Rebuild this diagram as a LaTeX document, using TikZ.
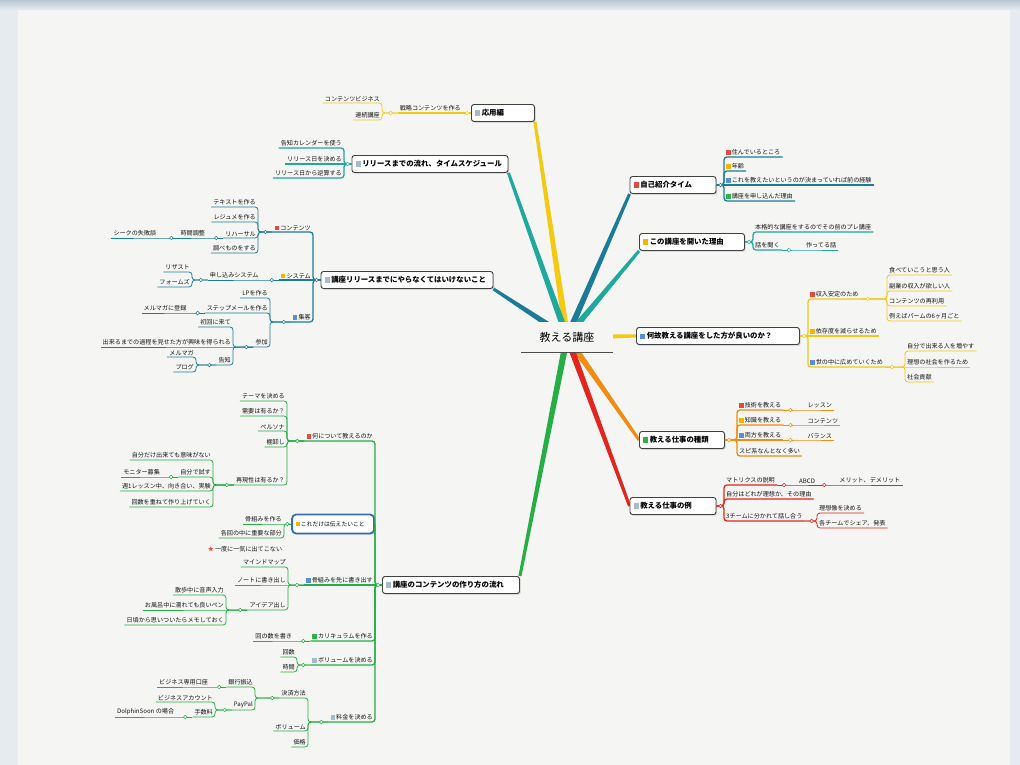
\documentclass[tikz,border=0pt]{standalone}
\usepackage{fontspec}
\setmainfont{Noto Sans CJK JP}
\usetikzlibrary{positioning,calc,shadows}

\definecolor{pageBg}{HTML}{F5F5F4}
\definecolor{edgeBg}{HTML}{E6EBF0}
\definecolor{topBar}{HTML}{B9C7D5}
\definecolor{cYel}{HTML}{F3C912}
\definecolor{cTl}{HTML}{1FA89C}
\definecolor{cDT}{HTML}{1C7C98}
\definecolor{cOr}{HTML}{F08C10}
\definecolor{cRd}{HTML}{E0261E}
\definecolor{cGn}{HTML}{24AE44}
\definecolor{iR}{HTML}{E5483F}
\definecolor{iY}{HTML}{F4B400}
\definecolor{iB}{HTML}{5B8ED8}
\definecolor{iG}{HTML}{2EB34C}
\definecolor{iN}{HTML}{A7BACB}
\definecolor{selBlue}{HTML}{3A6DB0}

\pgfdeclarelayer{bg}
\pgfsetlayers{bg,main}

\newcommand{\ico}[1]{\textcolor{#1}{\rule{.72em}{.72em}}\hspace{.2em}}
\newcommand{\branch}[2]{\fill[#1] ($(o)!3.2pt!90:(#2)$) -- ($(#2)!1.5pt!-90:(o)$) -- ($(#2)!1.5pt!90:(o)$) -- ($(o)!3.2pt!-90:(#2)$) -- cycle;}

\begin{document}
\begin{tikzpicture}[x=1pt,y=-1pt,
  box/.style={draw=black!75, line width=0.9pt, rounded corners=2.5pt, fill=white,
    drop shadow={shadow xshift=1.2pt, shadow yshift=-1.2pt, opacity=0.35},
    font=\fontsize{7.4}{8.5}\selectfont\bfseries, inner xsep=3.5pt, minimum height=17pt, align=left},
  sub/.style={font=\fontsize{6.1}{7}\selectfont, text=black!92, inner xsep=2pt, inner ysep=1.5pt},
  sr/.style={sub, anchor=south west},
  sl/.style={sub, anchor=south east},
  lk/.style={rounded corners=3pt, line width=1.3pt},
  lk2/.style={rounded corners=3pt, line width=0.8pt},
  knob/.style={line width=0.5pt, fill=white}]
  \useasboundingbox (0,0) rectangle (1020,765);

  % Temas principales
  \node[box, text width=56pt] (ap) at (503,113) {\ico{iN}応用編};
  \node[box, text width=149pt] (rs) at (430,164) {\ico{iN}リリースまでの流れ、タイムスケジュール};
  \node[box, text width=165pt] (kr) at (407,280) {\ico{iN}講座リリースまでにやらなくてはいけないこと};
  \node[box, text width=79pt] (jk) at (673,185) {\ico{iR}自己紹介タイム};
  \node[box, text width=98pt] (kk) at (692,242) {\ico{iY}この講座を開いた理由};
  \node[box, text width=156pt] (nz) at (718,336) {\ico{iB}何故教える講座をした方が良いのか？};
  \node[box, text width=78pt] (sy) at (682,440) {\ico{iG}教える仕事の種類};
  \node[box, text width=79pt] (ex) at (673,506) {\ico{iN}教える仕事の例};
  \node[box, text width=130pt] (tk) at (451,585) {\ico{iN}講座のコンテンツの作り方の流れ};

  \coordinate (o) at (567,337);
  \begin{pgfonlayer}{bg}
    \fill[edgeBg] (0,0) rectangle (1020,765);
    \fill[pageBg] (18,10) rectangle (1010,765);
    \shade[top color=topBar, bottom color=edgeBg] (0,0) rectangle (1020,10);
    \branch{cYel}{ap.south east}
    \branch{cTl}{rs.south east}
    \branch{cDT}{kr.south east}
    \branch{cDT}{jk.south west}
    \branch{cTl}{kk.south west}
    \branch{cYel}{nz.west}
    \branch{cOr}{sy.west}
    \branch{cRd}{ex.west}
    \branch{cGn}{tk.north east}
  \end{pgfonlayer}

  \node[font=\fontsize{11}{13}\selectfont, fill=pageBg, minimum width=91pt, minimum height=30pt, inner sep=0pt] (ctr) at (567,337) {教える講座};
  \draw[black!70, line width=0.7pt] (ctr.south west) -- (ctr.south east);

  % 自己紹介タイム
  \node[sr] (s1) at (724,157) {\ico{iR}住んでいるところ};
  \node[sr] (s2) at (724,171) {\ico{iY}年齢};
  \node[sr] (s3) at (724,185) {\ico{iB}これを教えたいというのが決まっていれば前の経験};
  \node[sr] (s4) at (724,201) {\ico{iG}講座を申し込んだ理由};
  \draw[lk,cDT] (jk.east) -| (s1.south west) -- (s1.south east);
  \draw[lk,cDT] (jk.east) -| (s2.south west) -- (s2.south east);
  \draw[lk,cDT] (jk.east) -- (s3.south west) -- (s3.south east);
  \draw[lk,cDT] (jk.east) -| (s4.south west) -- (s4.south east);

  % この講座を開いた理由
  \node[sr] (c1) at (753,232) {本格的な講座をするのでその前のプレ講座};
  \node[sr] (c2) at (753,250) {話を聞く};
  \node[sr] (c21) at ([xshift=22pt]c2.south east) {作ってる話};
  \draw[lk,cTl] (kk.east) -| (c1.south west) -- (c1.south east);
  \draw[lk,cTl] (kk.east) -| (c2.south west) -- (c2.south east);
  \draw[lk2,cTl] (c2.south east) -- (c21.south west) -- (c21.south east);

  % 何故
  \node[sr] (n1) at (808,299) {\ico{iR}収入安定のため};
  \node[sr] (n2) at (808,336) {\ico{iY}依存度を減らせるため};
  \node[sr] (n3) at (808,367) {\ico{iB}世の中に広めていくため};
  \node[sr] (n11) at (887,275) {食べていこうと思う人};
  \node[sr] (n12) at (887,291) {副業の収入が欲しい人};
  \node[sr] (n13) at (887,306) {コンテンツの再利用};
  \node[sr] (n14) at (887,321) {例えばパームの6ヶ月ごと};
  \node[sr] (n31) at (905,351) {自分で出来る人を増やす};
  \node[sr] (n32) at (905,367) {理想の社会を作るため};
  \node[sr] (n33) at (905,382) {社会貢献};
  \draw[lk,cYel] (nz.east) -| (n1.south west) -- (n1.south east);
  \draw[lk,cYel] (nz.east) -- (n2.south west) -- (n2.south east);
  \draw[lk,cYel] (nz.east) -| (n3.south west) -- (n3.south east);
  \draw[lk2,cYel] (n1.south east) -| (n11.south west) -- (n11.south east);
  \draw[lk2,cYel] (n1.south east) -| (n12.south west) -- (n12.south east);
  \draw[lk2,cYel] (n1.south east) -| (n13.south west) -- (n13.south east);
  \draw[lk2,cYel] (n1.south east) -| (n14.south west) -- (n14.south east);
  \draw[lk2,cYel] (n3.south east) -| (n31.south west) -- (n31.south east);
  \draw[lk2,cYel] (n3.south east) -- (n32.south west) -- (n32.south east);
  \draw[lk2,cYel] (n3.south east) -| (n33.south west) -- (n33.south east);

  % 教える仕事の種類
  \node[sr] (t1) at (737,410) {\ico{iR}技術を教える};
  \node[sr] (t2) at (737,425) {\ico{iY}知識を教える};
  \node[sr] (t3) at (737,440) {\ico{iB}両方を教える};
  \node[sr] (t4) at (737,456) {スピ系なんとなく多い};
  \node[sr] (t11) at ([xshift=22pt]t1.south east) {レッスン};
  \node[sr] (t21) at ([xshift=22pt]t2.south east) {コンテンツ};
  \node[sr] (t31) at ([xshift=22pt]t3.south east) {バランス};
  \draw[lk,cOr] (sy.east) -| (t1.south west) -- (t1.south east);
  \draw[lk,cOr] (sy.east) -| (t2.south west) -- (t2.south east);
  \draw[lk,cOr] (sy.east) -- (t3.south west) -- (t3.south east);
  \draw[lk,cOr] (sy.east) -| (t4.south west) -- (t4.south east);
  \draw[lk2,cOr] (t1.south east) -- (t11.south west) -- (t11.south east);
  \draw[lk2,cOr] (t2.south east) -- (t21.south west) -- (t21.south east);
  \draw[lk2,cOr] (t3.south east) -- (t31.south west) -- (t31.south east);

  % 教える仕事の例
  \node[sr] (e1) at (724,485) {マトリクスの説明};
  \node[sr] (e11) at ([xshift=20pt]e1.south east) {ABCD};
  \node[sr] (e111) at ([xshift=20pt]e11.south east) {メリット、デメリット};
  \node[sr] (e2) at (724,499) {自分はどれが理想か、その理由};
  \node[sr] (e3) at (724,521) {3チームに分かれて話し合う};
  \node[sr] (e31) at (817,513) {理想像を決める};
  \node[sr] (e32) at (817,528) {各チームでシェア、発表};
  \draw[lk,cRd] (ex.east) -| (e1.south west) -- (e1.south east);
  \draw[lk,cRd] (ex.east) -| (e2.south west) -- (e2.south east);
  \draw[lk,cRd] (ex.east) -| (e3.south west) -- (e3.south east);
  \draw[lk2,cRd] (e1.south east) -- (e11.south west) -- (e11.south east);
  \draw[lk2,cRd] (e11.south east) -- (e111.south west) -- (e111.south east);
  \draw[lk2,cRd] (e3.south east) -| (e31.south west) -- (e31.south east);
  \draw[lk2,cRd] (e3.south east) -| (e32.south west) -- (e32.south east);

  % 応用編
  \node[sl] (a1) at (463,113) {戦略コンテンツを作る};
  \node[sl] (a11) at (382,103) {コンテンツビジネス};
  \node[sl] (a12) at (382,120) {連続講座};
  \draw[lk,cYel] (ap.west) -- (a1.south east) -- (a1.south west);
  \draw[lk2,cYel] (a1.south west) -| (a11.south east) -- (a11.south west);
  \draw[lk2,cYel] (a1.south west) -| (a12.south east) -- (a12.south west);

  % リリースまでの流れ
  \node[sl] (r1) at (344,148) {告知カレンダーを使う};
  \node[sl] (r2) at (344,164) {リリース日を決める};
  \node[sl] (r3) at (344,178) {リリース日から逆算する};
  \draw[lk,cTl] (rs.west) -| (r1.south east) -- (r1.south west);
  \draw[lk,cTl] (rs.west) -- (r2.south east) -- (r2.south west);
  \draw[lk,cTl] (rs.west) -| (r3.south east) -- (r3.south west);

  % 講座リリースまでに
  \node[sl] (k1) at (313,232) {\ico{iR}コンテンツ};
  \node[sl] (k2) at (313,280) {\ico{iY}システム};
  \node[sl] (k3) at (313,322) {\ico{iB}集客};
  \node[sl] (k11) at (258,207) {テキストを作る};
  \node[sl] (k12) at (258,222) {レジュメを作る};
  \node[sl] (k13) at (258,238) {リハーサル};
  \node[sl] (k14) at (258,253) {調べものをする};
  \node[sl] (k131) at ([xshift=-16pt]k13.south west) {時間調整};
  \node[sl] (k1311) at ([xshift=-20pt]k131.south west) {シークの失敗談};
  \node[sl] (k21) at ([xshift=-18pt]k2.south west) {申し込みシステム};
  \node[sl] (k211) at (192,272) {リザスト};
  \node[sl] (k212) at (192,287) {フォームズ};
  \node[sl] (k31) at (270,298) {LPを作る};
  \node[sl] (k32) at (270,313) {ステップメールを作る};
  \node[sl] (k33) at (270,347) {参加};
  \node[sl] (k321) at ([xshift=-16pt]k32.south west) {メルマガに登録};
  \node[sl] (k331) at (233,327) {初回に来て};
  \node[sl] (k332) at (233,347) {出来るまでの過程を見せた方が興味を得られる};
  \node[sl] (k333) at (233,365) {告知};
  \node[sl] (k3331) at (196,357) {メルマガ};
  \node[sl] (k3332) at (196,372) {ブログ};
  \draw[lk,cDT] (kr.west) -| (k1.south east) -- (k1.south west);
  \draw[lk,cDT] (kr.west) -- (k2.south east) -- (k2.south west);
  \draw[lk,cDT] (kr.west) -| (k3.south east) -- (k3.south west);
  \draw[lk2,cDT] (k1.south west) -| (k11.south east) -- (k11.south west);
  \draw[lk2,cDT] (k1.south west) -| (k12.south east) -- (k12.south west);
  \draw[lk2,cDT] (k1.south west) -| (k13.south east) -- (k13.south west);
  \draw[lk2,cDT] (k1.south west) -| (k14.south east) -- (k14.south west);
  \draw[lk2,cDT] (k13.south west) -- (k131.south east) -- (k131.south west);
  \draw[lk2,cDT] (k131.south west) -- (k1311.south east) -- (k1311.south west);
  \draw[lk2,cDT] (k2.south west) -- (k21.south east) -- (k21.south west);
  \draw[lk2,cDT] (k21.south west) -| (k211.south east) -- (k211.south west);
  \draw[lk2,cDT] (k21.south west) -| (k212.south east) -- (k212.south west);
  \draw[lk2,cDT] (k3.south west) -| (k31.south east) -- (k31.south west);
  \draw[lk2,cDT] (k3.south west) -| (k32.south east) -- (k32.south west);
  \draw[lk2,cDT] (k3.south west) -| (k33.south east) -- (k33.south west);
  \draw[lk2,cDT] (k32.south west) -- (k321.south east) -- (k321.south west);
  \draw[lk2,cDT] (k33.south west) -| (k331.south east) -- (k331.south west);
  \draw[lk2,cDT] (k33.south west) -- (k332.south east) -- (k332.south west);
  \draw[lk2,cDT] (k33.south west) -| (k333.south east) -- (k333.south west);
  \draw[lk2,cDT] (k333.south west) -| (k3331.south east) -- (k3331.south west);
  \draw[lk2,cDT] (k333.south west) -| (k3332.south east) -- (k3332.south west);

  % 講座のコンテンツの作り方の流れ
  \node[sl] (m1) at (375,441) {\ico{iR}何について教えるのか};
  \node[box, anchor=east, draw=selBlue, line width=1.8pt, rounded corners=4pt,
    font=\fontsize{5.8}{7}\selectfont, text width=75pt, minimum height=19pt] (kd) at (375,524) {\ico{iY}これだけは伝えたいこと};
  \node[sl] (m3) at (375,585) {\ico{iB}骨組みを先に書き出す};
  \node[sl] (m4) at (375,641) {\ico{iG}カリキュラムを作る};
  \node[sl] (m5) at (375,665) {\ico{iN}ボリュームを決める};
  \node[sl] (m6) at (375,722) {\ico{iN}料金を決める};
  \node[sl] (m11) at (287,401) {テーマを決める};
  \node[sl] (m12) at (287,416) {需要は有るか？};
  \node[sl] (m13) at (287,431) {ペルソナ};
  \node[sl] (m14) at (287,447) {棚卸し};
  \node[sl] (m15) at (287,485) {再現性は有るか？};
  \node[sl] (m151) at (213,460) {自分だけ出来ても意味がない};
  \node[sl] (m152) at (213,477) {自分で試す};
  \node[sl] (m153) at (213,491) {週1レッスン中、向き合い、実験};
  \node[sl] (m154) at (213,507) {回数を重ねて作り上げていく};
  \node[sl] (m1521) at ([xshift=-16pt]m152.south west) {モニター募集};
  \node[sl] (m21) at (284,524) {骨組みを作る};
  \node[sl] (m22) at (284,538) {各回の中に重要な部分};
  \node[sub] (nt) at (245,549) {\textcolor{iR}{★}\,一度に一気に出てこない};
  \node[sl] (m31) at (288,567) {マインドマップ};
  \node[sl] (m32) at (288,585) {ノートに書き出し};
  \node[sl] (m33) at (288,610) {アイデア出し};
  \node[sl] (m331) at (226,595) {散歩中に音声入力};
  \node[sl] (m332) at (226,610) {お風呂中に濡れても良いペン};
  \node[sl] (m333) at (226,625) {日頃から思いついたらメモしておく};
  \node[sl] (m41) at ([xshift=-16pt]m4.south west) {回の数を書き};
  \node[sl] (m51) at (297,657) {回数};
  \node[sl] (m52) at (297,672) {時間};
  \node[sl] (m61) at (308,698) {決済方法};
  \node[sl] (m62) at (308,731) {ボリューム};
  \node[sl] (m63) at (308,747) {価格};
  \node[sl] (m611) at (255,687) {銀行振込};
  \node[sl] (m612) at (255,710) {PayPal};
  \node[sl] (m6111) at ([xshift=-16pt]m611.south west) {ビジネス専用口座};
  \node[sl] (m6121) at (215,702) {ビジネスアカウント};
  \node[sl] (m6122) at (215,717) {手数料};
  \node[sl] (m61221) at ([xshift=-16pt]m6122.south west) {DolphinSoon の場合};
  \draw[lk,cGn] (tk.west) -| (m1.south east) -- (m1.south west);
  \draw[lk,cGn] (tk.west) -| (kd.east);
  \draw[lk,cGn] (tk.west) -- (m3.south east) -- (m3.south west);
  \draw[lk,cGn] (tk.west) -| (m4.south east) -- (m4.south west);
  \draw[lk,cGn] (tk.west) -| (m5.south east) -- (m5.south west);
  \draw[lk,cGn] (tk.west) -| (m6.south east) -- (m6.south west);
  \draw[lk2,cGn] (m1.south west) -| (m11.south east) -- (m11.south west);
  \draw[lk2,cGn] (m1.south west) -| (m12.south east) -- (m12.south west);
  \draw[lk2,cGn] (m1.south west) -| (m13.south east) -- (m13.south west);
  \draw[lk2,cGn] (m1.south west) -| (m14.south east) -- (m14.south west);
  \draw[lk2,cGn] (m1.south west) -| (m15.south east) -- (m15.south west);
  \draw[lk2,cGn] (m15.south west) -| (m151.south east) -- (m151.south west);
  \draw[lk2,cGn] (m15.south west) -| (m152.south east) -- (m152.south west);
  \draw[lk2,cGn] (m15.south west) -| (m153.south east) -- (m153.south west);
  \draw[lk2,cGn] (m15.south west) -| (m154.south east) -- (m154.south west);
  \draw[lk2,cGn] (m152.south west) -- (m1521.south east) -- (m1521.south west);
  \draw[lk2,cGn] (kd.west) -- (m21.south east) -- (m21.south west);
  \draw[lk2,cGn] (kd.west) -| (m22.south east) -- (m22.south west);
  \draw[lk2,cGn] (m3.south west) -| (m31.south east) -- (m31.south west);
  \draw[lk2,cGn] (m3.south west) -- (m32.south east) -- (m32.south west);
  \draw[lk2,cGn] (m3.south west) -| (m33.south east) -- (m33.south west);
  \draw[lk2,cGn] (m33.south west) -| (m331.south east) -- (m331.south west);
  \draw[lk2,cGn] (m33.south west) -- (m332.south east) -- (m332.south west);
  \draw[lk2,cGn] (m33.south west) -| (m333.south east) -- (m333.south west);
  \draw[lk2,cGn] (m4.south west) -- (m41.south east) -- (m41.south west);
  \draw[lk2,cGn] (m5.south west) -| (m51.south east) -- (m51.south west);
  \draw[lk2,cGn] (m5.south west) -| (m52.south east) -- (m52.south west);
  \draw[lk2,cGn] (m6.south west) -| (m61.south east) -- (m61.south west);
  \draw[lk2,cGn] (m6.south west) -| (m62.south east) -- (m62.south west);
  \draw[lk2,cGn] (m6.south west) -| (m63.south east) -- (m63.south west);
  \draw[lk2,cGn] (m61.south west) -| (m611.south east) -- (m611.south west);
  \draw[lk2,cGn] (m61.south west) -| (m612.south east) -- (m612.south west);
  \draw[lk2,cGn] (m611.south west) -- (m6111.south east) -- (m6111.south west);
  \draw[lk2,cGn] (m612.south west) -| (m6121.south east) -- (m6121.south west);
  \draw[lk2,cGn] (m612.south west) -| (m6122.south east) -- (m6122.south west);
  \draw[lk2,cGn] (m6122.south west) -- (m61221.south east) -- (m61221.south west);

  % Botones
  \draw[cDT,knob] (jk.east) ++(4,0) circle[radius=1.8];
  \draw[cTl,knob] (kk.east) ++(4,0) circle[radius=1.8];
  \draw[cYel,knob] (nz.east) ++(4,0) circle[radius=1.8];
  \draw[cOr,knob] (sy.east) ++(4,0) circle[radius=1.8];
  \draw[cRd,knob] (ex.east) ++(4,0) circle[radius=1.8];
  \draw[cTl,knob] (c2.south east) ++(7,0) circle[radius=1.8];
  \draw[cYel,knob] (n1.south east) ++(7,0) circle[radius=1.8];
  \draw[cYel,knob] (n3.south east) ++(7,0) circle[radius=1.8];
  \draw[cOr,knob] (t1.south east) ++(7,0) circle[radius=1.8];
  \draw[cOr,knob] (t2.south east) ++(7,0) circle[radius=1.8];
  \draw[cOr,knob] (t3.south east) ++(7,0) circle[radius=1.8];
  \draw[cRd,knob] (e1.south east) ++(7,0) circle[radius=1.8];
  \draw[cRd,knob] (e11.south east) ++(7,0) circle[radius=1.8];
  \draw[cRd,knob] (e3.south east) ++(7,0) circle[radius=1.8];
  \draw[cYel,knob] (ap.west) ++(-4,0) circle[radius=1.8];
  \draw[cTl,knob] (rs.west) ++(-4,0) circle[radius=1.8];
  \draw[cDT,knob] (kr.west) ++(-4,0) circle[radius=1.8];
  \draw[cGn,knob] (tk.west) ++(-4,0) circle[radius=1.8];
  \draw[cGn,knob] (kd.west) ++(-4,0) circle[radius=1.8];
  \draw[cYel,knob] (a1.south west) ++(-7,0) circle[radius=1.8];
  \draw[cDT,knob] (k1.south west) ++(-7,0) circle[radius=1.8];
  \draw[cDT,knob] (k2.south west) ++(-7,0) circle[radius=1.8];
  \draw[cDT,knob] (k3.south west) ++(-7,0) circle[radius=1.8];
  \draw[cDT,knob] (k13.south west) ++(-7,0) circle[radius=1.8];
  \draw[cDT,knob] (k131.south west) ++(-7,0) circle[radius=1.8];
  \draw[cDT,knob] (k21.south west) ++(-7,0) circle[radius=1.8];
  \draw[cDT,knob] (k32.south west) ++(-7,0) circle[radius=1.8];
  \draw[cDT,knob] (k33.south west) ++(-7,0) circle[radius=1.8];
  \draw[cDT,knob] (k333.south west) ++(-7,0) circle[radius=1.8];
  \draw[cGn,knob] (m1.south west) ++(-7,0) circle[radius=1.8];
  \draw[cGn,knob] (m15.south west) ++(-7,0) circle[radius=1.8];
  \draw[cGn,knob] (m152.south west) ++(-7,0) circle[radius=1.8];
  \draw[cGn,knob] (m3.south west) ++(-7,0) circle[radius=1.8];
  \draw[cGn,knob] (m33.south west) ++(-7,0) circle[radius=1.8];
  \draw[cGn,knob] (m4.south west) ++(-7,0) circle[radius=1.8];
  \draw[cGn,knob] (m5.south west) ++(-7,0) circle[radius=1.8];
  \draw[cGn,knob] (m6.south west) ++(-7,0) circle[radius=1.8];
  \draw[cGn,knob] (m61.south west) ++(-7,0) circle[radius=1.8];
  \draw[cGn,knob] (m611.south west) ++(-7,0) circle[radius=1.8];
  \draw[cGn,knob] (m612.south west) ++(-7,0) circle[radius=1.8];
  \draw[cGn,knob] (m6122.south west) ++(-7,0) circle[radius=1.8];
\end{tikzpicture}
\end{document}
